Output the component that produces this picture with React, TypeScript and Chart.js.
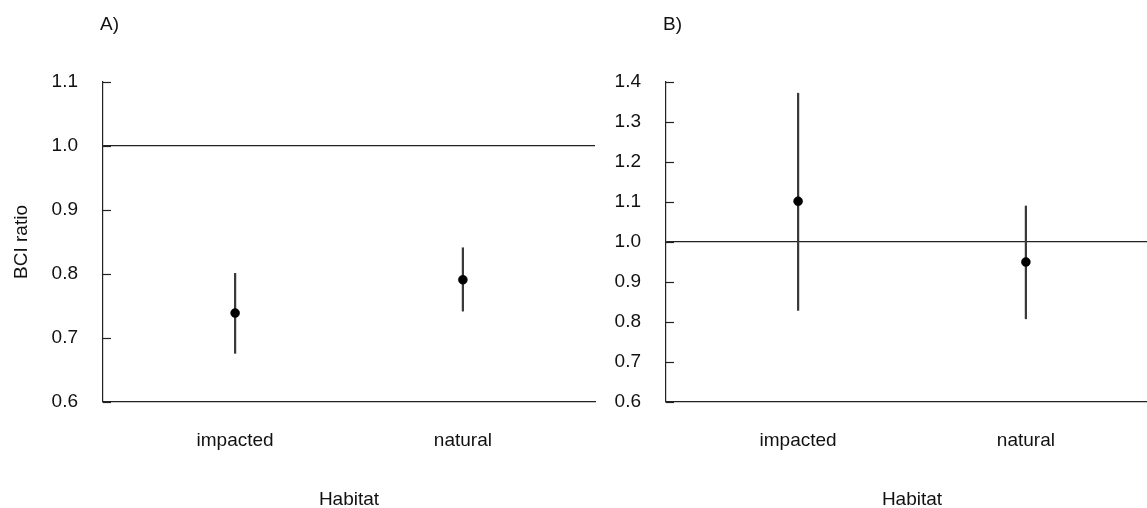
import React, { useEffect, useRef } from "react";
import { Chart, registerables } from "chart.js";

Chart.register(...registerables);

// ---- data ----
const CATEGORIES = ["impacted", "natural"];
const CATEGORY_X = [1, 2];
const X_LIMITS = [0.42, 2.58];
const REFERENCE_VALUE = 1.0;
const Y_STEP = 0.1;

const A_MEAN = [0.739, 0.791];
const A_LOW = [0.676, 0.742];
const A_HIGH = [0.801, 0.841];
const A_Y_RANGE = [0.6, 1.1];

const B_MEAN = [1.102, 0.95];
const B_LOW = [0.829, 0.808];
const B_HIGH = [1.372, 1.09];
const B_Y_RANGE = [0.6, 1.4];

// ---- style ----
const FONT = "'Liberation Sans', Arial, sans-serif";
const FONT_SIZE = 19;
const TEXT_COLOR = "#111111";
const AXIS_COLOR = "#222222";
const BAR_COLOR = "#3a3a3a";
const CANVAS_W = 600;
const CANVAS_H = 520;

const rStylePlugin = {
  id: "rStyle",
  afterDraw(chart: any, _args: any, opts: any) {
    const { ctx, chartArea } = chart;
    const y = chart.scales.y;
    ctx.save();
    ctx.strokeStyle = AXIS_COLOR;
    ctx.lineWidth = 1.2;
    y.ticks.forEach((t: any) => {
      const py = Math.round(y.getPixelForValue(t.value)) + 0.5;
      ctx.beginPath();
      ctx.moveTo(chartArea.left, py);
      ctx.lineTo(chartArea.left + 8, py);
      ctx.stroke();
    });
    if (opts && opts.label) {
      ctx.fillStyle = TEXT_COLOR;
      ctx.font = `${FONT_SIZE}px ${FONT}`;
      ctx.textBaseline = "middle";
      ctx.textAlign = "left";
      ctx.fillText(opts.label, chartArea.left - 3, 25);
    }
    ctx.restore();
  },
};

type PanelProps = {
  label: string;
  means: number[];
  lows: number[];
  highs: number[];
  yRange: number[];
  yTitle: string;
  left: number;
};

function Panel({ label, means, lows, highs, yRange, yTitle, left }: PanelProps) {
  const ref = useRef<HTMLCanvasElement | null>(null);
  useEffect(() => {
    if (!ref.current) return;
    const chart = new Chart(ref.current, {
      type: "scatter",
      data: {
        datasets: [
          {
            type: "scatter",
            order: 0,
            data: CATEGORY_X.map((x, i) => ({ x, y: means[i] })),
            backgroundColor: "#000",
            borderColor: "#000",
            pointRadius: 4.5,
            pointBorderWidth: 0.5,
            pointHoverRadius: 4.5,
          } as any,
          {
            type: "bar",
            order: 1,
            data: CATEGORY_X.map((x, i) => ({ x, y: [lows[i], highs[i]] })),
            backgroundColor: BAR_COLOR,
            borderWidth: 0,
            barThickness: 1.6,
          } as any,
        ],
      },
      options: {
        responsive: false,
        animation: false,
        events: [],
        layout: { padding: { top: 82, left: 0, right: CANVAS_W - 596, bottom: 0 } },
        plugins: {
          legend: { display: false },
          tooltip: { enabled: false },
          rStyle: { label },
        } as any,
        scales: {
          x: {
            type: "linear",
            min: X_LIMITS[0],
            max: X_LIMITS[1],
            offset: false,
            grid: { display: false, drawTicks: false, offset: false },
            border: { display: true, color: AXIS_COLOR, width: 1.2 },
            afterBuildTicks: (scale: any) => {
              scale.ticks = CATEGORY_X.map((v) => ({ value: v }));
            },
            afterFit: (scale: any) => {
              scale.height = CANVAS_H - 402;
            },
            ticks: {
              padding: 27,
              maxRotation: 0,
              autoSkip: false,
              color: TEXT_COLOR,
              font: { family: FONT, size: FONT_SIZE },
              callback: (_v: any, i: number) => CATEGORIES[i],
            },
            title: {
              display: true,
              text: "Habitat",
              color: TEXT_COLOR,
              font: { family: FONT, size: FONT_SIZE },
              padding: { top: 0, bottom: 8.6 },
            },
          },
          y: {
            type: "linear",
            min: yRange[0],
            max: yRange[1],
            grid: {
              drawTicks: false,
              lineWidth: 1.2,
              color: (ctx: any) =>
                ctx.tick && Math.abs(ctx.tick.value - REFERENCE_VALUE) < 1e-9
                  ? AXIS_COLOR
                  : "rgba(0,0,0,0)",
            },
            border: { display: true, color: AXIS_COLOR, width: 1.2 },
            afterFit: (scale: any) => {
              scale.width = 103;
            },
            ticks: {
              stepSize: Y_STEP,
              padding: 25,
              color: TEXT_COLOR,
              font: { family: FONT, size: FONT_SIZE },
              callback: (v: any) => Number(v).toFixed(1),
            },
            title: {
              display: !!yTitle,
              text: yTitle,
              color: TEXT_COLOR,
              font: { family: FONT, size: FONT_SIZE },
              padding: { top: 10.6, bottom: 0 },
            },
          },
        },
      } as any,
      plugins: [rStylePlugin as any],
    });
    return () => chart.destroy();
  }, []);
  return (
    <canvas
      ref={ref}
      width={CANVAS_W}
      height={CANVAS_H}
      style={{ position: "absolute", left, top: 0, width: CANVAS_W, height: CANVAS_H }}
    />
  );
}

export default function App() {
  return (
    <div
      style={{
        position: "fixed",
        left: 0,
        top: 0,
        width: 1147,
        height: 508,
        overflow: "hidden",
        background: "#fff",
      }}
    >
      <Panel label="A)" means={A_MEAN} lows={A_LOW} highs={A_HIGH} yRange={A_Y_RANGE} yTitle="BCI ratio" left={0} />
      <Panel label="B)" means={B_MEAN} lows={B_LOW} highs={B_HIGH} yRange={B_Y_RANGE} yTitle="" left={563} />
    </div>
  );
}
